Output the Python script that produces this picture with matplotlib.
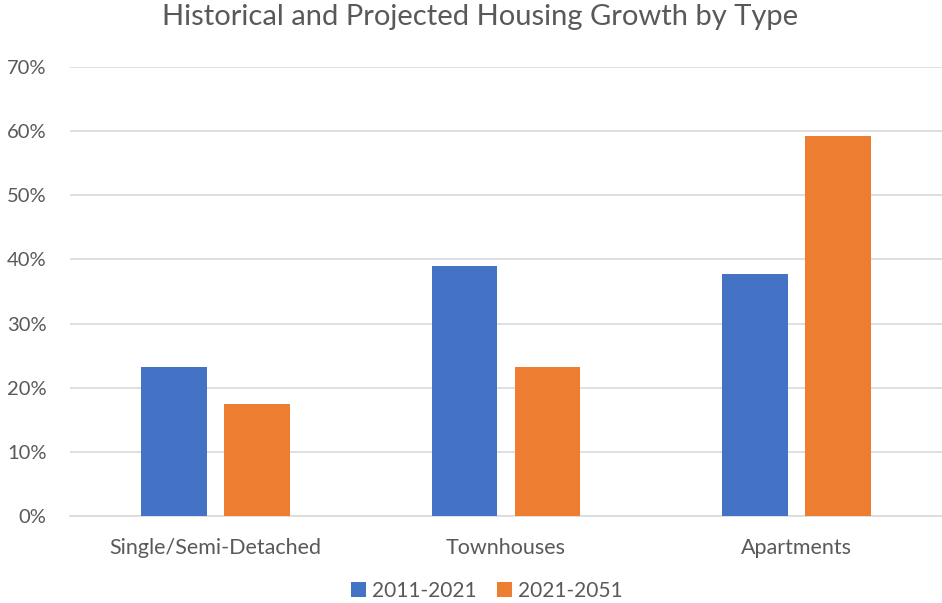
import matplotlib
matplotlib.use("Agg")
import matplotlib.pyplot as plt
import numpy as np
from matplotlib.ticker import FuncFormatter

categories = ["Single/Semi-Detached", "Townhouses", "Apartments"]
series_names = ["2011-2021", "2021-2051"]
values_2011_2021 = [23.3, 38.9, 37.8]
values_2021_2051 = [17.5, 23.3, 59.2]
colors = ["#4472C4", "#ED7D31"]

plt.rcParams['font.family'] = ['Lato', 'DejaVu Sans']
txt = "#595959"

fig = plt.figure(figsize=(9.42, 6.03), dpi=100)
ax = fig.add_axes([70/942, 1-516/603, 1-70/942, (516-67)/603])

x = np.arange(len(categories))
w = 0.227
off = 0.2855 / 2
ax.bar(x - off, values_2011_2021, w, color=colors[0], label=series_names[0], zorder=3)
ax.bar(x + off, values_2021_2051, w, color=colors[1], label=series_names[1], zorder=3)

ax.set_xlim(-0.5, 2.5)
ax.set_ylim(0, 70)
ax.set_yticks(np.arange(0, 71, 10))
ax.yaxis.set_major_formatter(FuncFormatter(lambda v, p: f"{int(v)}%"))
ax.set_xticks(x)
ax.set_xticklabels(categories)
ax.grid(axis='y', color='#D9D9D9', linewidth=1.2, zorder=0)
for s in ['top', 'right', 'left']:
    ax.spines[s].set_visible(False)
ax.spines['bottom'].set_color('#D9D9D9')
ax.spines['bottom'].set_linewidth(1.2)
ax.tick_params(axis='both', length=0, colors=txt)
ax.tick_params(axis='y', pad=17, labelsize=14.5)
ax.tick_params(axis='x', pad=16, labelsize=15.5)

fig.text(480/942, 1-17/603, "Historical and Projected Housing Growth by Type",
         ha='center', va='center', fontsize=21, color=txt)

fig.legend(loc='center', bbox_to_anchor=(487/942, 1-591/603), ncol=2, frameon=False,
           fontsize=15, labelcolor=txt, handlelength=0.7, handleheight=0.7,
           handletextpad=0.3, columnspacing=1.0)

fig.savefig("out.png", dpi=100)
